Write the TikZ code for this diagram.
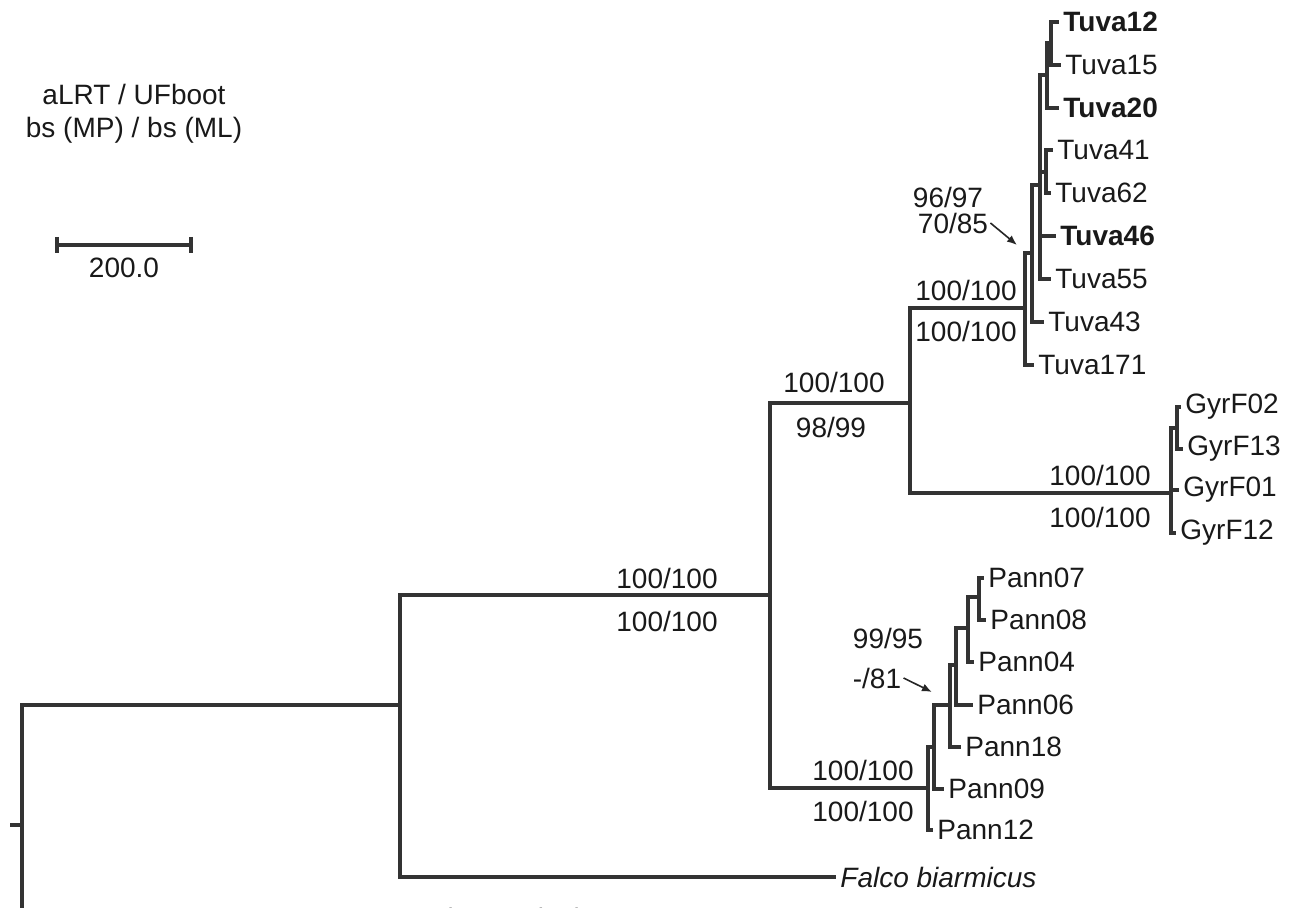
\documentclass[tikz,border=0pt]{standalone}
\usepackage{fontspec}
\setmainfont{Liberation Sans}
\usetikzlibrary{arrows.meta}

\begin{document}
\begin{tikzpicture}[x=0.5pt,y=-0.5pt,
  br/.style={line width=1.6pt,draw=black!80},
  leaf/.style={anchor=west,inner sep=2pt,text=black!90,font=\fontsize{14}{16}\selectfont},
  bsval/.style={inner sep=1pt,text=black!90,font=\fontsize{14}{16}\selectfont},
  pointer/.style={draw=black!85,line width=0.8pt,-{Latex[length=5pt,width=4pt]}}]
  \useasboundingbox (0,0) rectangle (1291,908);
  \clip (0,0) rectangle (1291,908);

  \node[bsval,align=center,font=\fontsize{14}{16.5}\selectfont] (legend) at (134,114)
    {aLRT / UFboot\\bs (MP) / bs (ML)};
  \coordinate (sbl) at (57,245);
  \coordinate (sbr) at (191,245);
  \draw[br] (sbl) -- (sbr);
  \draw[br] (57,237) -- (57,253) (191,237) -- (191,253);
  \node[bsval] (scale) at (124,268) {200.0};

  % internal nodes of the tree
  \coordinate (stub) at (10,825);
  \coordinate (root) at (22,825);
  \coordinate (n0) at (400,705);
  \coordinate (n1) at (770,595);
  \coordinate (n2) at (910,403);
  \coordinate (tA) at (1025,308);
  \coordinate (tB) at (1032,253);
  \coordinate (tC) at (1040,185);
  \coordinate (tD) at (1047,75);
  \coordinate (tE) at (1051,43);
  \coordinate (tF) at (1046,172);
  \coordinate (g1) at (1171,493);
  \coordinate (g2) at (1177,428);
  \coordinate (p1) at (928,788);
  \coordinate (p2) at (934,747);
  \coordinate (p3) at (950,705);
  \coordinate (p4) at (956,665);
  \coordinate (p5) at (968,628);
  \coordinate (p6) at (979,597);

  % leaves
  \foreach \x/\y/\n in {1061/65/Tuva15, 1053/150/Tuva41, 1051/193/Tuva62,
                        1051/279/Tuva55, 1044/322/Tuva43, 1034/365/Tuva171,
                        1181/407/GyrF02, 1183/449/GyrF13, 1179/490/GyrF01, 1176/533/GyrF12,
                        984/578/Pann07, 986/620/Pann08, 974/662/Pann04, 973/705/Pann06,
                        961/747/Pann18, 944/789/Pann09, 933/830/Pann12} {
    \node[leaf] (\n) at (\x,\y) {\n};
  }
  \foreach \x/\y/\n in {1059/22/Tuva12, 1059/108/Tuva20, 1056/236/Tuva46} {
    \node[leaf,font=\fontsize{14}{16}\selectfont\bfseries] (\n) at (\x,\y) {\n};
  }
  \node[leaf,font=\fontsize{14}{16}\selectfont\itshape] (Fbia) at (836,877) {Falco biarmicus};
  \node[leaf,font=\fontsize{14}{16}\selectfont\itshape] (Frus) at (408,918) {Falco rusticolus};

  % branches
  \draw[br] (stub) -- (root);
  \draw[br] (root) |- (n0);
  \draw[br] (root) |- (Frus.west);
  \draw[br] (n0) |- (n1);
  \draw[br] (n0) |- (Fbia.west);
  \draw[br] (n1) |- (n2);
  \draw[br] (n1) |- (p1);
  \draw[br] (n2) |- (tA);
  \draw[br] (n2) |- (g1);
  \draw[br] (tA) |- (tB);
  \draw[br] (tA) |- (Tuva171.west);
  \draw[br] (tB) |- (tC);
  \draw[br] (tB) |- (Tuva43.west);
  \foreach \c in {tD,tF,Tuva46.west,Tuva55.west}
    \draw[br] (tC) |- (\c);
  \draw[br] (tD) |- (tE);
  \draw[br] (tD) |- (Tuva20.west);
  \foreach \c in {Tuva12,Tuva15}
    \draw[br] (tE) |- (\c.west);
  \foreach \c in {Tuva41,Tuva62}
    \draw[br] (tF) |- (\c.west);
  \draw[br] (g1) |- (g2);
  \foreach \c in {GyrF01,GyrF12}
    \draw[br] (g1) |- (\c.west);
  \foreach \c in {GyrF02,GyrF13}
    \draw[br] (g2) |- (\c.west);
  \draw[br] (p1) |- (p2);
  \draw[br] (p1) |- (Pann12.west);
  \draw[br] (p2) |- (p3);
  \draw[br] (p2) |- (Pann09.west);
  \draw[br] (p3) |- (p4);
  \draw[br] (p3) |- (Pann18.west);
  \draw[br] (p4) |- (p5);
  \draw[br] (p4) |- (Pann06.west);
  \draw[br] (p5) |- (p6);
  \draw[br] (p5) |- (Pann04.west);
  \draw[br] (p6) |- (Pann07.west);
  \draw[br] (p6) |- (Pann08.west);

  % support values
  \node[bsval] (s1a) at (667,578) {100/100};
  \node[bsval] (s1b) at (667,621) {100/100};
  \node[bsval] (s2a) at (834,382) {100/100};
  \node[bsval] (s2b) at (831,427) {98/99};
  \node[bsval] (s3a) at (966,290) {100/100};
  \node[bsval] (s3b) at (966,331) {100/100};
  \node[bsval] (s4a) at (1100,475) {100/100};
  \node[bsval] (s4b) at (1100,517) {100/100};
  \node[bsval] (s5a) at (863,770) {100/100};
  \node[bsval] (s5b) at (863,811) {100/100};
  \node[bsval] (s9697) at (948,197) {96/97};
  \node[bsval] (s7085) at (953,223) {70/85};
  \node[bsval] (s9995) at (888,638) {99/95};
  \node[bsval] (s81) at (877,678) {-/81};
  \coordinate (tipT) at (1017,245);
  \coordinate (tipP) at (932,692);
  \draw[pointer] (s7085.east) -- (tipT);
  \draw[pointer] (s81.east) -- (tipP);
\end{tikzpicture}
\end{document}
